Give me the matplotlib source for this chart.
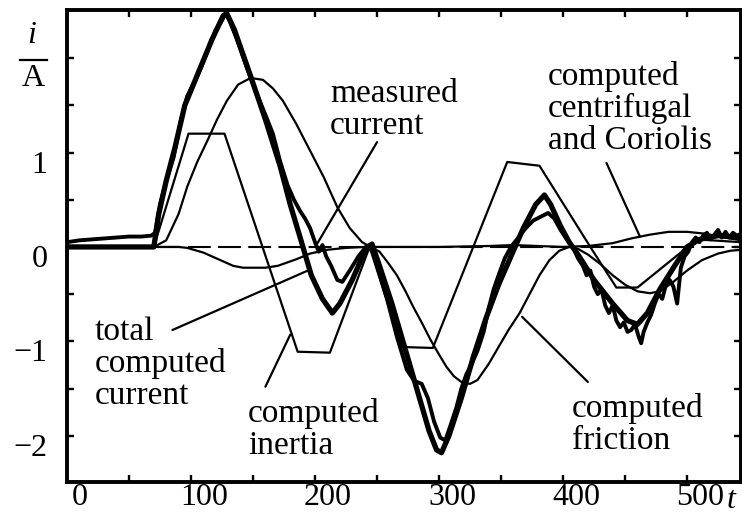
import numpy as np
import matplotlib
matplotlib.use("Agg")
import matplotlib.pyplot as plt
import matplotlib.transforms as mtransforms
from matplotlib.lines import Line2D

plt.rcParams['font.family'] = ['Liberation Serif', 'DejaVu Serif']

# measured current (noisy trace)
t_meas = [0, 10, 20, 30, 40, 50, 60, 68, 71, 75, 80, 86, 92, 97, 103, 108, 114, 120, 125, 128, 131,
          137, 145, 152, 160, 166, 172, 178, 183, 188, 192, 196, 200, 203, 206, 209, 213, 218, 222,
          228, 235, 241, 245, 250, 258, 266, 274, 280, 286, 291, 296, 301, 305, 309, 314, 318, 322,
          326, 331, 336, 340, 344, 348, 353, 358, 364, 370, 376, 382, 388, 393, 398, 403, 408, 412,
          416, 419, 422, 425, 428, 431, 434, 437, 440, 443, 446, 449, 452, 455, 458, 461, 463, 465,
          468, 471, 474, 477, 480, 483, 486, 489, 492, 495, 498, 501, 504, 507, 510, 513, 516, 519,
          522, 525, 528, 531, 534, 537, 540, 544]
i_meas = [0.05, 0.07, 0.08, 0.09, 0.10, 0.11, 0.11, 0.12, 0.15, 0.45, 0.70, 0.95, 1.35, 1.60, 1.75,
          1.90, 2.10, 2.30, 2.40, 2.48, 2.40, 2.20, 1.90, 1.65, 1.40, 1.20, 0.90, 0.65, 0.50, 0.38,
          0.30, 0.20, 0.05, -0.05, 0.02, -0.10, -0.20, -0.35, -0.37, -0.25, -0.10, 0.00, 0.03, -0.20,
          -0.55, -0.95, -1.30, -1.42, -1.45, -1.60, -1.85, -2.02, -2.05, -1.90, -1.70, -1.50, -1.35,
          -1.25, -1.10, -0.90, -0.65, -0.45, -0.30, -0.12, 0.00, 0.10, 0.20, 0.28, 0.32, 0.36, 0.30,
          0.18, 0.08, 0.00, -0.12, -0.20, -0.30, -0.25, -0.42, -0.50, -0.45, -0.62, -0.70, -0.62,
          -0.78, -0.85, -0.80, -0.90, -0.88, -0.82, -0.95, -1.02, -0.90, -0.80, -0.72, -0.60, -0.50,
          -0.55, -0.40, -0.35, -0.42, -0.60, -0.22, -0.10, -0.05, 0.05, 0.10, 0.05, 0.12, 0.15, 0.08,
          0.13, 0.18, 0.10, 0.16, 0.10, 0.15, 0.12, 0.14]

# total computed current
t_total = [0, 70, 74, 80, 87, 95, 106, 117, 126, 129, 135, 147, 160, 172, 180, 188, 197, 206, 214,
           220, 230, 240, 246, 252, 262, 272, 282, 292, 298, 302, 308, 318, 328, 338, 348, 358, 368,
           378, 385, 390, 398, 405, 413, 425, 440, 452, 460, 468, 478, 490, 500, 510, 525, 544]
i_total = [0, 0, 0.35, 0.70, 1.05, 1.50, 1.85, 2.20, 2.45, 2.47, 2.30, 1.85, 1.35, 0.85, 0.45, 0.10,
           -0.30, -0.55, -0.70, -0.60, -0.35, -0.05, 0.03, -0.20, -0.60, -1.05, -1.50, -1.95, -2.15,
           -2.18, -2.00, -1.60, -1.15, -0.75, -0.40, -0.10, 0.20, 0.45, 0.55, 0.45, 0.22, 0.05, -0.10,
           -0.35, -0.60, -0.78, -0.82, -0.70, -0.45, -0.20, 0.00, 0.08, 0.12, 0.10]

# computed inertia
t_inert = [0, 70, 98, 127, 186, 212, 244, 270, 295, 355, 381, 422, 443, 460, 508, 544]
i_inert = [0, 0, 1.20, 1.20, -1.11, -1.12, 0.00, -1.06, -1.07, 0.90, 0.86, 0.00, -0.43, -0.43, 0.08, 0.05]

# computed friction
t_fric = [0, 70, 80, 90, 97, 105, 113, 121, 129, 138, 148, 158, 166, 174, 185, 196, 207, 218, 228,
          238, 245, 252, 259, 266, 273, 279, 286, 293, 300, 306, 312, 319, 325, 331, 340, 348, 356,
          365, 373, 381, 389, 397, 405, 412, 420, 430, 440, 450, 460, 470, 478, 488, 500, 512, 525,
          535, 544]
i_fric = [0, 0, 0.07, 0.35, 0.64, 0.90, 1.12, 1.35, 1.55, 1.72, 1.79, 1.77, 1.68, 1.55, 1.30, 1.02,
          0.74, 0.42, 0.20, 0.05, 0.00, -0.05, -0.17, -0.30, -0.47, -0.63, -0.80, -0.98, -1.14, -1.27,
          -1.37, -1.44, -1.45, -1.41, -1.24, -1.06, -0.88, -0.70, -0.50, -0.30, -0.14, -0.04, 0.00,
          -0.02, -0.08, -0.18, -0.30, -0.40, -0.47, -0.49, -0.47, -0.38, -0.25, -0.14, -0.07, -0.04,
          -0.03]

# computed centrifugal and Coriolis
t_cent = [0, 90, 97, 110, 122, 134, 142, 160, 170, 185, 196, 210, 225, 240, 300, 340, 360, 380, 400,
          420, 440, 455, 470, 485, 500, 515, 530, 544]
i_cent = [0, 0, -0.01, -0.06, -0.13, -0.20, -0.22, -0.22, -0.20, -0.13, -0.07, -0.03, -0.01, 0.00,
          0.00, 0.01, 0.02, 0.01, 0.00, 0.01, 0.04, 0.09, 0.13, 0.16, 0.16, 0.14, 0.10, 0.07]

x_ticks = [0, 100, 200, 300, 400, 500]
y_ticks = [-2, -1, 0, 1]


fig = plt.figure(figsize=(7.42, 5.15), dpi=100)
ax = fig.add_axes([67 / 742, 1 - 482 / 515, 674 / 742, 472 / 515])

ax.axhline(0, color='black', lw=1.5, dashes=(11, 3.5))
ax.plot(t_cent, i_cent, color='black', lw=1.6)
ax.plot(t_fric, i_fric, color='black', lw=1.6)
ax.plot(t_inert, i_inert, color='black', lw=1.6)
ax.plot(t_meas, i_meas, color='black', lw=2.8)
ax.plot(t_total, i_total, color='black', lw=3.8)

ax.set_xlim(0, 543.5)
ax.set_ylim(-2.49, 2.51)

ax.set_xticks(x_ticks)
ax.set_xticklabels([str(v) for v in x_ticks])
ax.set_xticks(np.arange(0, 544, 50), minor=True)
ax.set_yticks(y_ticks)
ax.set_yticklabels(['\u22122', '\u22121', '0', '1'])
ax.set_yticks(np.arange(-2, 2.01, 0.5), minor=True)

for which in ('major', 'minor'):
    ax.tick_params(axis='both', which=which, direction='in', length=5, width=1.7,
                   top=True, right=True, labelsize=23)
ax.tick_params(axis='x', pad=1)
ax.tick_params(axis='y', pad=14)

for sp in ax.spines.values():
    sp.set_linewidth(2.8)

# tick labels sit a bit right / below their ticks in the original
for lab in ax.get_xticklabels():
    lab.set_transform(lab.get_transform() + mtransforms.ScaledTranslation(0.13, 0, fig.dpi_scale_trans))
for lab in ax.get_yticklabels():
    lab.set_transform(lab.get_transform() + mtransforms.ScaledTranslation(0, -0.09, fig.dpi_scale_trans))

# axis labels i/A and t
ax.text(-0.052, 0.915, 'i', transform=ax.transAxes, ha='center', va='bottom',
        fontsize=23, style='italic')
ax.add_line(Line2D([-0.07, -0.03], [0.894, 0.894], transform=ax.transAxes, color='black',
                   lw=1.6, clip_on=False))
ax.text(-0.05, 0.885, 'A', transform=ax.transAxes, ha='center', va='top', fontsize=23)
ax.text(0.985, -0.04, 't', transform=ax.transAxes, ha='center', va='center',
        fontsize=23, style='italic')

# annotations
fs = 24
ls = 1.05
lead = dict(arrowstyle='-', color='black', lw=1.6, shrinkA=0, shrinkB=0)
ax.text(212, 1.78, 'measured\ncurrent', fontsize=fs, va='top', ha='left', linespacing=ls)
ax.annotate('', xy=(202, 0.04), xytext=(250, 1.11), arrowprops=lead)

ax.text(388, 1.97, 'computed\ncentrifugal\nand Coriolis', fontsize=fs, va='top', ha='left',
        linespacing=ls)
ax.annotate('', xy=(462, 0.11), xytext=(435, 0.89), arrowprops=lead)

ax.text(22, -0.74, 'total\ncomputed\ncurrent', fontsize=fs, va='top', ha='left', linespacing=ls)
ax.annotate('', xy=(196, -0.24), xytext=(85, -0.88), arrowprops=lead)

ax.text(146, -1.60, 'computed\ninertia', fontsize=fs, va='top', ha='left', linespacing=ls)
ax.annotate('', xy=(180, -0.93), xytext=(160, -1.48), arrowprops=lead)

ax.text(407, -1.55, 'computed\nfriction', fontsize=fs, va='top', ha='left', linespacing=ls)
ax.annotate('', xy=(367, -0.74), xytext=(420, -1.43), arrowprops=lead)

fig.savefig('out.png', dpi=100)
